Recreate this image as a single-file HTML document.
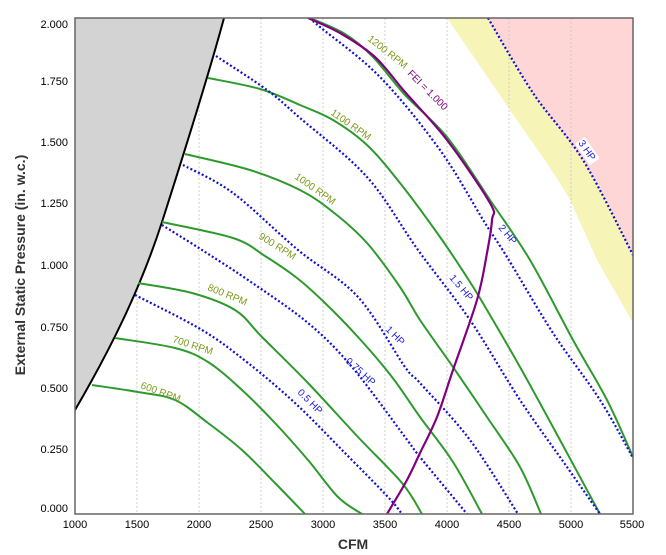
<!DOCTYPE html>
<html><head><meta charset="utf-8"><style>
html,body{margin:0;padding:0;background:#fff;}
svg{display:block;font-family:"Liberation Sans","DejaVu Sans",sans-serif;}
.g{fill:none;stroke:#2e9a2e;stroke-width:2;}
.d{fill:none;stroke:#1010d0;stroke-width:2.2;stroke-dasharray:2 2.2;}
.rl{font-size:10px;fill:#7a9a1a;}
.hl{font-size:10px;fill:#2020e0;}
.t{font-size:11px;fill:#000;}
</style></head><body>
<svg id="s" width="666" height="555" viewBox="0 0 666 555">
<defs><clipPath id="c"><rect x="75" y="18" width="558" height="496"/></clipPath></defs>
<g clip-path="url(#c)">
<path d="M488,18 L633,18 L633,255 C615,215 600,185 583,160 C565,133 550,118 533,93 Z" fill="#ffd6d6"/>
<path d="M447,18 L488,18 C510,55 520,75 533,93 C550,118 565,133 583,160 C600,185 615,215 633,255 L633,323 C620,300 610,283 597,260 C588,240 580,222 570,200 C550,165 530,140 510,110 Z" fill="#f7f4b8"/>
<g stroke="#ccc" stroke-width="1" stroke-dasharray="2 2">
<line x1="137" y1="18" x2="137" y2="514"/><line x1="199" y1="18" x2="199" y2="514"/>
<line x1="261" y1="18" x2="261" y2="514"/><line x1="323" y1="18" x2="323" y2="514"/>
<line x1="385" y1="18" x2="385" y2="514"/><line x1="447" y1="18" x2="447" y2="514"/>
<line x1="509" y1="18" x2="509" y2="514"/><line x1="571" y1="18" x2="571" y2="514"/>
</g>
<path d="M75,18 L224,18 C210,70 185,150 162,222 C140,290 110,350 75,410 Z" fill="#d3d3d3" stroke="none"/>
<path d="M224,18 C210,70 185,150 162,222 C140,290 110,350 75,410" fill="none" stroke="#000" stroke-width="2"/>
<polyline class="g sm" points="92,385 138,392 175,400 208,423 242,450 275,483 305,514"/>
<polyline class="g sm" points="115,338 175,348 208,362 242,390 275,423 308,460 338,497 362,514"/>
<polyline class="g sm" points="138,283 192,293 235,310 262,337 308,383 358,437 402,483 422,514"/>
<polyline class="g sm" points="162,222 233,238 265,256 297,278 325,303 358,337 392,377 420,417 453,462 482,514"/>
<polyline class="g sm" points="185,154 250,170 300,190 333,212 367,243 400,287 420,320 453,367 487,417 520,467 541,514"/>
<polyline class="g sm" points="208,78 260,89 300,105 333,120 367,145 400,183 440,237 470,282 487,310 520,367 560,440 600,514"/>
<polyline class="g sm" points="310,18 345,34 373,57 405,95 447,137 490,200 530,260 573,340 607,400 633,457"/>
<polyline class="d sm" points="135,295 202,330 248,363 295,403 342,450 388,497 402,514"/>
<polyline class="d sm" points="162,225 202,250 248,280 308,323 352,367 405,437 420,457 467,514"/>
<polyline class="d sm" points="183,165 233,193 298,250 358,297 405,367 420,383 470,440 518,514"/>
<polyline class="d sm" points="216,56 267,90 300,118 367,177 418,250 470,320 520,400 567,467 600,514"/>
<polyline class="d sm" points="310,18 320,27 380,77 440,150 485,223 507,257 553,333 600,400 633,458"/>
<polyline class="d sm" points="488,18 533,93 583,160 633,255"/>
<polyline class="sm" fill="none" stroke="#800080" stroke-width="2.2" points="308,18 340,33 375,57 405,92 447,140 490,203 492,220 487,253 477,300 453,370 437,417 420,453 407,480 387,514"/>
</g>
<rect x="75" y="18" width="558" height="496" fill="none" stroke="#666" stroke-width="1.5"/>
<text class="rl" transform="translate(140,388) rotate(20)">600 RPM</text>
<text class="rl" transform="translate(172,342) rotate(18)">700 RPM</text>
<text class="rl" transform="translate(207,290) rotate(22)">800 RPM</text>
<text class="rl" transform="translate(258,238) rotate(32)">900 RPM</text>
<text class="rl" transform="translate(294,178) rotate(35)">1000 RPM</text>
<text class="rl" transform="translate(330,114) rotate(35)">1100 RPM</text>
<text class="rl" transform="translate(367,40) rotate(38)">1200 RPM</text>
<text transform="translate(407,74) rotate(45)" style="font-size:10px;fill:#800080">FEI = 1.000</text>
<text class="hl" transform="translate(297,393) rotate(45)">0.5 HP</text>
<text class="hl" transform="translate(345,362) rotate(42)">0.75 HP</text>
<text class="hl" transform="translate(385,330) rotate(45)">1 HP</text>
<text class="hl" transform="translate(449,278) rotate(50)">1.5 HP</text>
<text class="hl" transform="translate(498,228) rotate(50)">2 HP</text>
<g transform="translate(578,143) rotate(55)"><rect x="-1" y="-9" width="26" height="12" fill="#fff"/><text class="hl" x="0" y="0">3 HP</text></g>
<g class="t" text-anchor="end">
<text x="68" y="28">2.000</text><text x="68" y="85">1.750</text>
<text x="68" y="146">1.500</text><text x="68" y="207">1.250</text>
<text x="68" y="269">1.000</text><text x="68" y="331">0.750</text>
<text x="68" y="392">0.500</text><text x="68" y="453">0.250</text>
<text x="68" y="512">0.000</text>
</g>
<g class="t" text-anchor="middle">
<text x="75" y="528">1000</text><text x="137" y="528">1500</text><text x="199" y="528">2000</text>
<text x="261" y="528">2500</text><text x="323" y="528">3000</text><text x="385" y="528">3500</text>
<text x="447" y="528">4000</text><text x="509" y="528">4500</text><text x="571" y="528">5000</text>
<text x="632" y="528">5500</text>
</g>
<text x="353" y="549" text-anchor="middle" style="font-size:14px;font-weight:bold;fill:#333">CFM</text>
<text transform="translate(25,265) rotate(-90)" text-anchor="middle" style="font-size:14px;font-weight:bold;fill:#333">External Static Pressure (in. w.c.)</text>
</svg>
<script>
document.querySelectorAll('polyline.sm').forEach(function(pl){
  var p=pl.getAttribute('points').trim().split(/\s+/).map(function(s){return s.split(',').map(Number);});
  var d='M'+p[0][0]+','+p[0][1];
  for(var i=0;i<p.length-1;i++){
    var p0=p[i-1]||p[i],p1=p[i],p2=p[i+1],p3=p[i+2]||p2;
    var c1=[p1[0]+(p2[0]-p0[0])/6,p1[1]+(p2[1]-p0[1])/6];
    var c2=[p2[0]-(p3[0]-p1[0])/6,p2[1]-(p3[1]-p1[1])/6];
    d+=' C'+c1[0].toFixed(1)+','+c1[1].toFixed(1)+' '+c2[0].toFixed(1)+','+c2[1].toFixed(1)+' '+p2[0]+','+p2[1];
  }
  var path=document.createElementNS('http://www.w3.org/2000/svg','path');
  path.setAttribute('d',d);
  ['class','fill','stroke','stroke-width'].forEach(function(a){if(pl.hasAttribute(a))path.setAttribute(a,pl.getAttribute(a));});
  pl.parentNode.replaceChild(path,pl);
});
</script>
</body></html>
